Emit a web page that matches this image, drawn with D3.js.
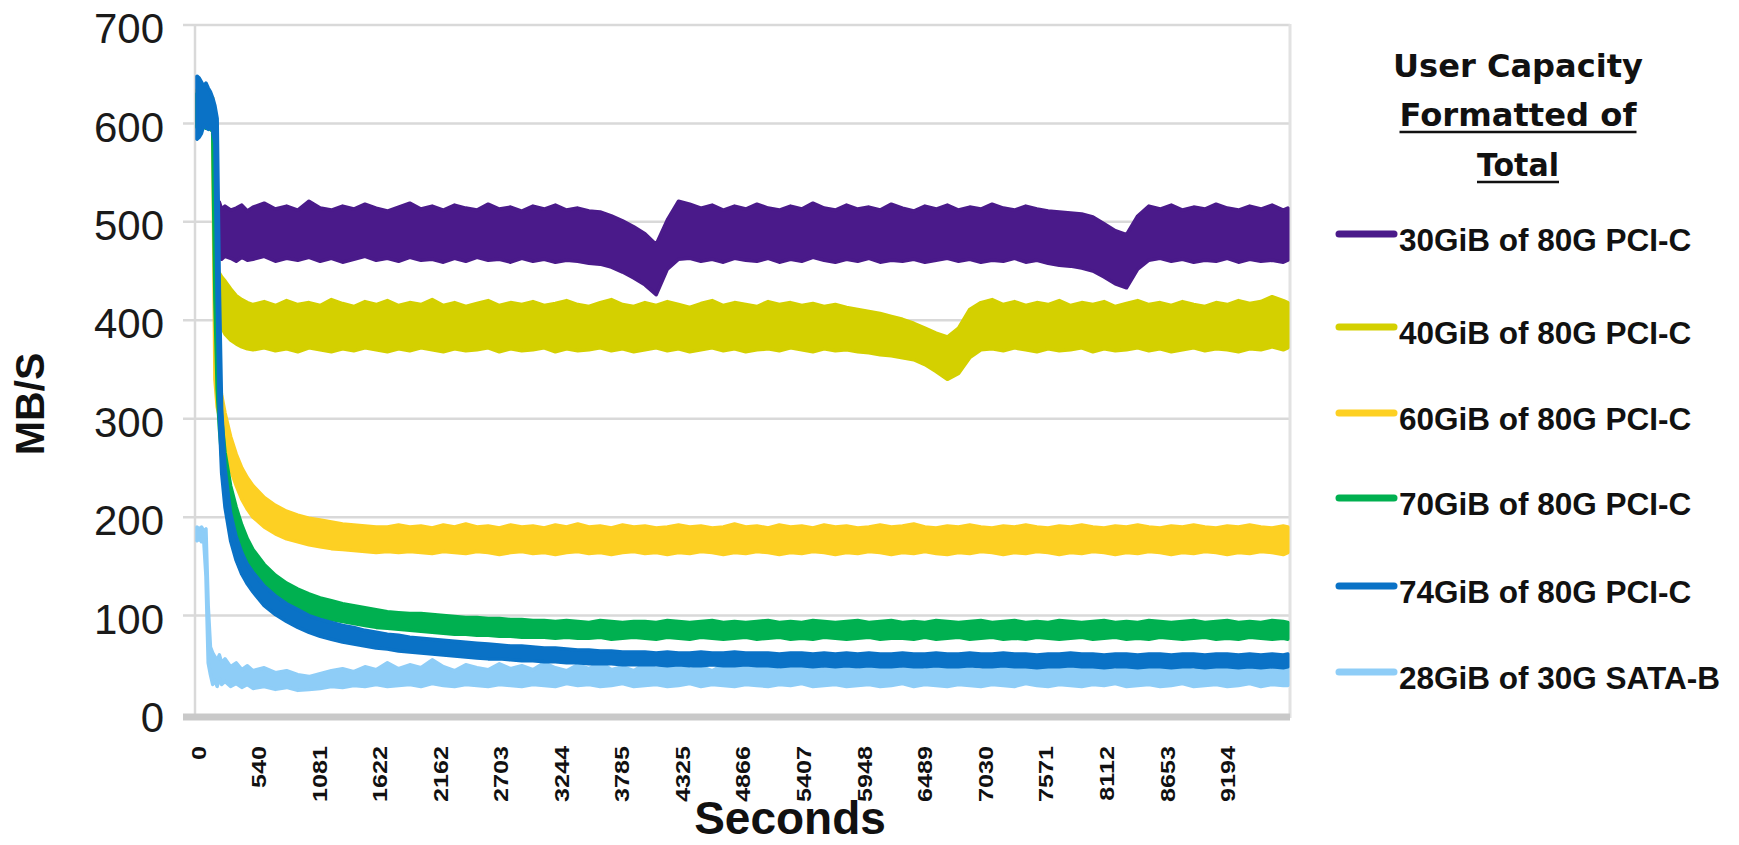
<!DOCTYPE html>
<html>
<head>
<meta charset="utf-8">
<script src="https://cdn.jsdelivr.net/npm/d3@7"></script>
<style>
  html, body { margin: 0; padding: 0; background: #ffffff; }
  svg { display: block; }
</style>
</head>
<body>
<script>
// ---------------- DATA ----------------
const times = [0,20,40,60,80,100,120,140,160,180,200,220,250,300,350,400,450,500,600,700,800,900,
  1000,1100,1200,1300,1400,1500,1600,1700,1800,1900,
  2000,2100,2200,2300,2400,2500,2600,2700,2800,2900,
  3000,3100,3200,3300,3400,3500,3600,3700,3800,3900,
  4000,4100,4200,4300,4400,4500,4600,4700,4800,4900,
  5000,5100,5200,5300,5400,5500,5600,5700,5800,5900,
  6000,6100,6200,6300,6400,6500,6600,6700,6800,6900,
  7000,7100,7200,7300,7400,7500,7600,7700,7800,7900,
  8000,8100,8200,8300,8400,8500,8600,8700,8800,8900,
  9000,9100,9200,9300,9400,9500,9600,9700,9740];

const seriesNames = ["30GiB of 80G PCI-C","40GiB of 80G PCI-C","60GiB of 80G PCI-C",
                     "70GiB of 80G PCI-C","74GiB of 80G PCI-C","28GiB of 30G SATA-B"];

// 30GiB of 80G PCI-C (lower / upper edge of the noisy band, MB/s)
const lo30 = [null,null,null,null,null,null,null,null,null,470,466,462,465,463,460,464,461,462,465,460,463,461,
  464,460,463,459,462,465,461,463,460,464,
  461,462,459,463,460,464,461,462,459,463,
  460,462,459,461,460,458,457,454,449,443,
  436,426,452,462,463,460,462,459,463,461,
  460,463,459,462,460,464,461,459,462,460,
  463,459,461,460,462,459,461,463,460,462,
  459,461,460,463,459,461,458,456,455,453,
  450,444,437,433,452,461,463,460,462,459,
  461,460,463,459,462,460,461,459,461];
const hi30 = [null,null,null,null,null,null,null,null,null,518,520,513,516,512,514,517,511,515,519,513,516,512,
  521,514,512,516,513,518,514,511,515,519,
  513,516,512,517,514,512,518,513,515,511,
  516,513,517,512,514,511,510,506,501,495,
  488,477,502,521,518,514,517,512,516,513,
  518,514,512,516,513,519,514,512,517,513,
  515,512,518,514,511,516,513,517,512,515,
  513,518,514,512,516,513,511,510,509,508,
  505,498,491,487,506,516,513,517,512,515,
  513,518,514,512,516,513,517,512,514];

// 40GiB of 80G PCI-C
const lo40 = [null,null,null,null,null,null,null,null,null,400,398,393,386,380,376,373,371,370,372,369,371,368,
  372,370,368,371,369,372,370,368,371,369,
  372,370,368,371,369,370,372,368,371,369,
  370,372,368,371,369,370,372,369,371,368,
  370,372,369,371,368,370,372,369,371,368,
  370,371,369,372,370,368,371,369,370,368,
  367,365,364,362,360,355,348,340,346,362,
  370,371,369,372,370,368,371,369,370,372,
  368,371,369,370,372,369,371,368,370,372,
  369,371,370,368,371,370,373,370,372];
const hi40 = [null,null,null,null,null,null,null,null,null,446,448,444,440,432,425,421,418,416,419,415,420,416,
  418,415,421,417,414,419,416,420,415,418,
  416,421,415,418,414,417,420,415,418,416,
  419,415,417,420,416,414,418,421,416,414,
  418,415,419,416,413,417,420,415,418,416,
  414,419,416,418,415,417,414,416,413,411,
  409,407,404,401,397,392,387,383,392,411,
  418,421,416,419,415,418,416,420,415,418,
  416,419,414,417,420,416,418,415,419,416,
  414,418,416,420,417,419,424,420,418];

// 60GiB of 80G PCI-C
const lo60 = [598,600,596,598,600,596,598,594,340,312,302,288,272,248,232,218,208,200,190,183,178,175,
  172,170,168,167,166,165,164,165,164,165,
  164,163,165,164,163,165,164,162,164,165,
  163,164,162,164,165,163,164,162,164,165,
  163,164,162,164,163,165,164,162,164,163,
  165,164,162,164,163,165,164,162,164,163,
  165,164,162,164,163,165,163,162,164,163,
  165,164,162,164,163,165,164,162,164,163,
  165,164,162,164,163,165,164,162,164,163,
  165,164,162,164,163,165,164,162,164];
const hi60 = [634,636,632,630,634,630,628,626,600,348,338,324,306,282,264,250,240,232,220,212,206,202,
  199,197,195,193,192,191,190,190,192,190,
  191,189,192,190,193,190,191,189,192,190,
  191,189,192,190,193,190,191,189,192,190,
  191,189,190,192,190,191,189,190,193,190,
  191,189,192,190,191,189,192,190,191,189,
  190,192,190,191,193,190,189,191,190,192,
  190,189,191,190,192,190,189,191,190,192,
  190,189,191,190,192,190,189,191,190,192,
  190,189,191,190,192,190,189,191,190];

// 70GiB of 80G PCI-C
const lo70 = [596,598,594,597,595,596,594,592,420,330,290,262,232,200,180,165,152,142,128,118,111,106,
  102,99,96,94,92,90,88,87,86,85,
  84,83,82,81,81,80,80,79,79,78,
  78,78,77,78,77,77,78,76,77,78,
  77,76,78,77,76,78,77,76,77,78,
  76,77,78,76,77,76,78,77,76,77,
  78,76,77,77,76,78,76,77,78,76,
  77,78,76,77,76,78,77,76,77,78,
  76,77,78,76,77,76,78,77,76,77,
  78,76,77,76,78,77,76,77,76];
const hi70 = [630,632,628,631,629,630,627,624,598,430,330,300,266,232,210,192,178,167,152,141,133,127,
  122,118,115,112,110,108,106,104,103,102,
  102,101,100,99,98,98,97,97,96,96,
  95,95,94,95,94,93,95,94,93,94,
  94,93,95,94,93,94,95,93,94,93,
  94,95,93,94,93,95,94,93,94,95,
  93,94,95,93,94,93,95,94,93,94,
  95,93,94,95,93,94,93,95,94,93,
  94,95,93,94,93,95,94,93,94,95,
  93,94,95,93,94,93,95,94,93];

// 74GiB of 80G PCI-C
const lo74 = [584,586,590,598,596,594,598,592,580,420,300,245,210,176,156,142,132,124,110,101,94,88,
  83,79,76,73,71,69,67,66,64,63,
  62,61,60,59,58,57,56,56,55,54,
  54,53,53,52,52,51,51,51,50,50,
  50,50,49,50,49,49,50,49,49,50,
  49,49,48,49,49,48,49,48,49,48,
  49,48,48,49,48,48,49,48,48,49,
  48,48,49,48,48,47,48,48,49,48,
  48,47,48,48,47,48,48,47,48,48,
  47,48,48,47,48,47,48,47,48];
const hi74 = [648,646,642,638,641,636,632,626,618,605,430,310,250,204,180,164,152,144,130,120,112,106,
  100,96,93,90,88,85,83,81,80,78,
  77,76,75,74,73,72,71,70,69,69,
  68,67,67,66,65,65,64,64,63,63,
  63,62,63,62,62,63,62,62,63,62,
  62,62,61,62,62,61,62,61,62,61,
  62,61,61,62,61,61,62,61,61,62,
  61,61,62,61,61,60,61,61,62,61,
  61,60,61,61,60,61,61,60,61,61,
  60,61,61,60,61,60,61,60,61];

// 28GiB of 30G SATA-B
const lo28 = [176,178,175,177,140,52,40,30,34,28,36,30,33,28,31,27,30,26,28,25,27,24,
  25,26,28,27,29,28,30,28,29,30,
  28,31,29,28,30,29,28,30,29,28,
  30,29,28,31,29,30,28,29,31,28,
  29,30,28,29,31,28,30,29,28,30,
  29,28,30,29,31,28,29,30,28,29,
  30,28,29,31,28,30,29,28,30,29,
  28,30,29,28,31,29,28,30,29,28,
  30,29,31,28,29,30,28,29,31,28,
  29,30,28,29,31,28,30,29,29];
const hi28 = [190,188,190,186,188,110,68,62,58,55,60,52,56,48,52,45,49,44,47,42,44,40,
  38,41,44,46,43,48,45,52,46,50,
  47,55,48,44,50,47,45,51,46,49,
  45,52,47,44,50,46,53,45,48,44,
  51,46,49,54,45,48,44,50,47,53,
  46,49,44,51,47,55,45,48,50,44,
  49,46,52,45,48,44,50,47,53,46,
  44,49,46,51,45,48,54,46,49,45,
  50,47,44,52,46,49,45,51,47,44,
  48,52,45,49,46,51,44,48,47];

const yTicks = [0,100,200,300,400,500,600,700];
const xTicks = [0,540,1081,1622,2162,2703,3244,3785,4325,4866,5407,5948,6489,7030,7571,8112,8653,9194];

// ---------------- CHART ----------------
const colors = ["#4a1a8a","#d4d000","#fdd023","#00b050","#0a72c6","#8ecdf7"];
const loArr = [lo30, lo40, lo60, lo70, lo74, lo28];
const hiArr = [hi30, hi40, hi60, hi70, hi74, hi28];
const drawOrder = [0, 1, 2, 3, 5, 4];

const W = 1739, H = 845;
const svg = d3.select("body").append("svg").attr("width", W).attr("height", H)
  .style("font-family", "'Liberation Sans', Arial, sans-serif");
svg.append("rect").attr("width", W).attr("height", H).attr("fill", "#fff");

const x = d3.scaleLinear().domain([0, 9760]).range([197, 1290]);
const y = d3.scaleLinear().domain([0, 700]).range([714, 25]);

// gridlines
svg.append("g").selectAll("line").data(yTicks.filter(d => d > 0)).join("line")
  .attr("x1", 183).attr("x2", 1290)
  .attr("y1", d => y(d)).attr("y2", d => y(d))
  .attr("stroke", "#d9d9d9").attr("stroke-width", 2.5);
// left & right borders
svg.append("line").attr("x1", 195).attr("x2", 195).attr("y1", y(700)).attr("y2", y(0))
  .attr("stroke", "#d9d9d9").attr("stroke-width", 2.5);
svg.append("line").attr("x1", 1290).attr("x2", 1290).attr("y1", y(700) - 1).attr("y2", y(0) + 4)
  .attr("stroke", "#e2e2e2").attr("stroke-width", 3);

// series bands
const area = d3.area()
  .defined(d => d.lo != null && d.hi != null)
  .x(d => x(d.t)).y0(d => y(d.lo)).y1(d => y(d.hi));

drawOrder.forEach(i => {
  const lo = loArr[i], hi = hiArr[i];
  const pts = times.map((t, k) => ({ t: t, lo: lo[k], hi: hi[k] }));
  svg.append("path").datum(pts)
    .attr("d", area)
    .attr("fill", colors[i])
    .attr("stroke", colors[i])
    .attr("stroke-width", 3.5)
    .attr("stroke-linejoin", "round");
});

// x-axis bar
svg.append("line").attr("x1", 183).attr("x2", 1290).attr("y1", y(0) + 3).attr("y2", y(0) + 3)
  .attr("stroke", "#c9c9c9").attr("stroke-width", 7);

// y axis labels
const yAxis = svg.append("g").attr("transform", "translate(167,0)")
  .call(d3.axisLeft(y).tickValues(yTicks).tickSize(0).tickPadding(3).tickFormat(d3.format("d")));
yAxis.select(".domain").remove();
yAxis.selectAll("text")
  .attr("dy", "0.42em")
  .attr("fill", "#1a1a1a")
  .style("font-size", "42px")
  .style("font-family", "'Liberation Sans', Arial, sans-serif");

// x axis labels
const xAxis = svg.append("g").attr("transform", "translate(0,746)")
  .call(d3.axisBottom(x).tickValues(xTicks).tickSize(0).tickFormat(d => String(d)));
xAxis.select(".domain").remove();
xAxis.selectAll("text")
  .attr("y", null).attr("dy", null)
  .attr("text-anchor", "end")
  .attr("transform", "translate(8,0) rotate(-90) scale(1.2,1)")
  .attr("fill", "#111")
  .style("font-size", "21px")
  .style("font-weight", "bold")
  .style("font-family", "'Liberation Sans', Arial, sans-serif");

// axis titles
svg.append("text").attr("transform", "translate(44,404) rotate(-90)")
  .attr("text-anchor", "middle").attr("fill", "#111")
  .style("font-size", "41px").style("font-weight", "bold")
  .text("MB/S");
svg.append("text").attr("x", 790).attr("y", 834)
  .attr("text-anchor", "middle").attr("fill", "#111")
  .style("font-size", "46px").style("font-weight", "bold")
  .text("Seconds");

// legend title
const titleLines = [
  { text: "User Capacity", y: 77, len: 250, under: false },
  { text: "Formatted of", y: 126, len: 237, under: true },
  { text: "Total", y: 176, len: 82, under: true }
];
const tcx = 1518;
titleLines.forEach(l => {
  svg.append("text").attr("x", tcx).attr("y", l.y)
    .attr("text-anchor", "middle").attr("fill", "#111")
    .attr("textLength", l.len).attr("lengthAdjust", "spacingAndGlyphs")
    .style("font-family", "'DejaVu Sans', sans-serif")
    .style("font-size", "32px").style("font-weight", "bold")
    .text(l.text);
  if (l.under) {
    svg.append("line").attr("x1", tcx - l.len / 2).attr("x2", tcx + l.len / 2)
      .attr("y1", l.y + 6).attr("y2", l.y + 6)
      .attr("stroke", "#111").attr("stroke-width", 2.5);
  }
});

// legend items
const legendY = [234, 327, 413, 498, 586, 672];
seriesNames.forEach((name, i) => {
  const g = svg.append("g").attr("transform", `translate(0,${legendY[i]})`);
  g.append("line").attr("x1", 1339).attr("x2", 1394).attr("y1", 0).attr("y2", 0)
    .attr("stroke", colors[i]).attr("stroke-width", 7).attr("stroke-linecap", "round");
  g.append("text").attr("x", 1399).attr("y", 17)
    .attr("fill", "#111")
    .style("font-size", "31.5px").style("font-weight", "bold")
    .text(name);
});
</script>
</body>
</html>
